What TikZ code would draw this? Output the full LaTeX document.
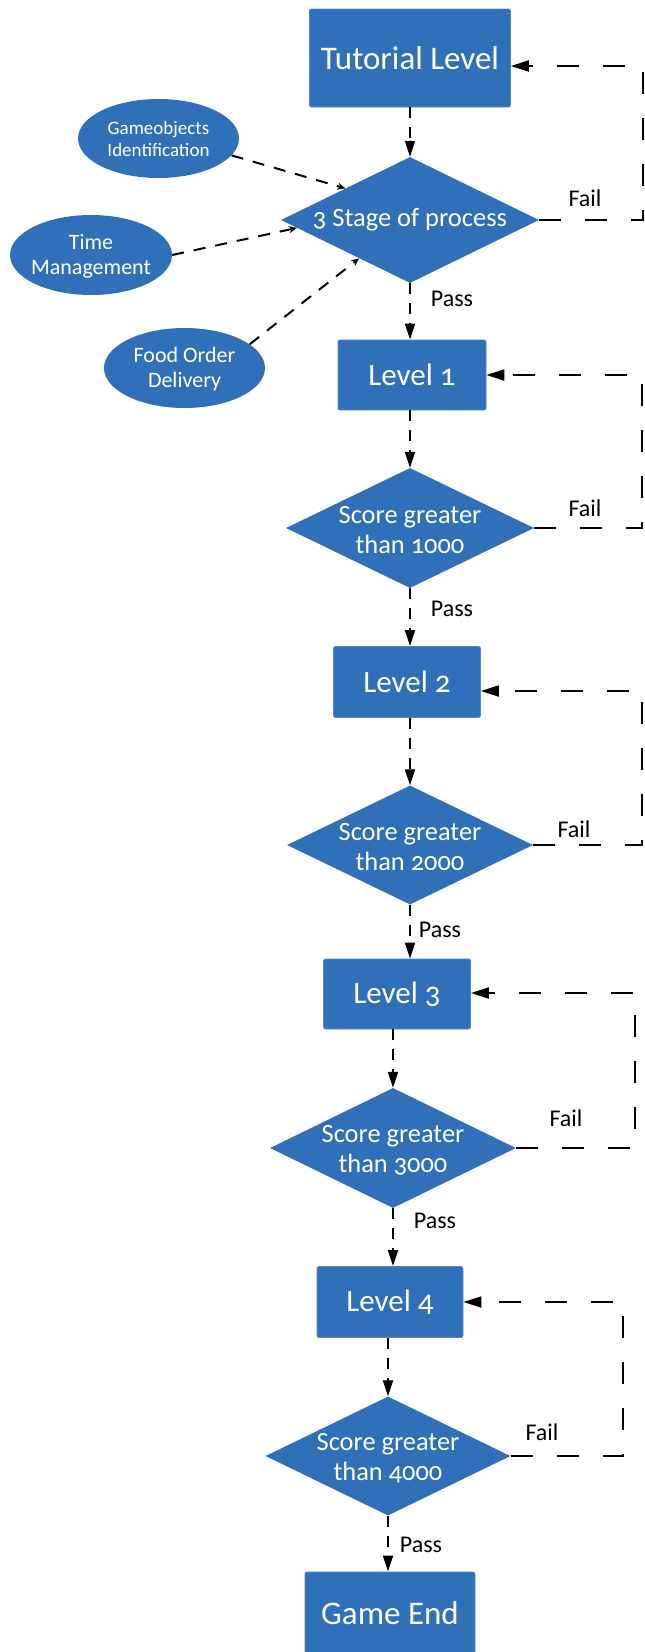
\documentclass[tikz,border=0pt]{standalone}
\usepackage{fontspec}
\setmainfont{Carlito}[Numbers=OldStyle]
\usetikzlibrary{shapes.geometric,arrows.meta}
\definecolor{boxblue}{RGB}{48,112,184}
\definecolor{edgeblue}{RGB}{78,136,200}
\begin{document}
\begin{tikzpicture}[x=1pt,y=-1pt,
  lvl/.style={rectangle, fill=boxblue, draw=edgeblue, line width=0.8pt, rounded corners=2pt, text=white, inner sep=0pt, align=center},
  dec/.style={diamond, fill=boxblue, inner sep=0pt},
  oval/.style={ellipse, fill=boxblue, inner sep=0pt},
  txt/.style={text=white, align=center, inner sep=0pt},
  flow/.style={line width=2pt, dash pattern=on 11pt off 9pt, -{Triangle[length=16pt,width=10pt]}},
  back/.style={line width=2pt, dash pattern=on 22pt off 24pt, -{Triangle[length=18pt,width=11pt]}},
  feed/.style={line width=2pt, dash pattern=on 12pt off 10pt, -{Stealth[length=8pt,width=7pt]}},
  lab/.style={text=black, inner sep=0pt, font=\fontsize{24}{28}\selectfont},
]
\useasboundingbox (0,0) rectangle (645,1652);

% main column
\node[lvl, minimum width=201pt, minimum height=98pt, font=\fontsize{33}{38}\selectfont] (t) at (410,58) {Tutorial Level};
\node[dec, minimum width=258pt, minimum height=126pt] (d0) at (410,220) {};
\node[txt, font=\fontsize{26.5}{30}\selectfont] (d0t) at (410,220) {3 Stage of process};

\node[lvl, minimum width=148pt, minimum height=70pt, font=\fontsize{31}{36}\selectfont] (l1) at (412,375) {Level 1};
\node[dec, minimum width=248pt, minimum height=120pt] (d1) at (410,528) {};
\node[txt, font=\fontsize{26.4}{30}\selectfont] (d1t) at (410,530) {Score greater\\than 1000};

\node[lvl, minimum width=147pt, minimum height=71pt, font=\fontsize{31}{36}\selectfont] (l2) at (407,682) {Level 2};
\node[dec, minimum width=246pt, minimum height=119pt] (d2) at (410,845) {};
\node[txt, font=\fontsize{26.4}{30}\selectfont] (d2t) at (410,847) {Score greater\\than 2000};

\node[lvl, minimum width=147pt, minimum height=70pt, font=\fontsize{31}{36}\selectfont] (l3) at (397,994) {Level 3};
\node[dec, minimum width=246pt, minimum height=120pt] (d3) at (393,1148) {};
\node[txt, font=\fontsize{26.4}{30}\selectfont] (d3t) at (393,1150) {Score greater\\than 3000};

\node[lvl, minimum width=146pt, minimum height=71pt, font=\fontsize{31}{36}\selectfont] (l4) at (390,1302) {Level 4};
\node[dec, minimum width=245pt, minimum height=119pt] (d4) at (388,1456) {};
\node[txt, font=\fontsize{26.4}{30}\selectfont] (d4t) at (388,1458) {Score greater\\than 4000};

\node[lvl, minimum width=170pt, minimum height=82pt, font=\fontsize{33}{38}\selectfont] (ge) at (390,1613) {Game End};

% ellipses
\node[oval, minimum width=161pt, minimum height=79pt] (g) at (158.5,138.5) {};
\node[txt, font=\fontsize{19}{22}\selectfont] (gt) at (158.5,139) {Gameobjects\\Identification};
\node[oval, minimum width=162pt, minimum height=80pt] (tm) at (91,255) {};
\node[txt, font=\fontsize{22}{25}\selectfont] (tmt) at (91,256) {Time\\Management};
\node[oval, minimum width=161pt, minimum height=80pt] (f) at (184.5,368) {};
\node[txt, font=\fontsize{22}{25}\selectfont] (ft) at (184.5,369) {Food Order\\Delivery};

% feeds into stage diamond
\draw[feed] (g.-13) -- (d0.north west);
\draw[feed] (tm.east) -- (d0.184);
\draw[feed] (f.20) -- (d0.217);

% downward flow (vertical, at the x of the target)
\draw[flow] (d0.north |- t.south) -- (d0.north);
\draw[flow] (d0.south) -- (d0.south |- l1.north);
\draw[flow] (d1.north |- l1.south) -- (d1.north);
\draw[flow] (d1.south) -- (d1.south |- l2.north);
\draw[flow] (d2.north |- l2.south) -- (d2.north);
\draw[flow] (d2.south) -- (d2.south |- l3.north);
\draw[flow] (d3.north |- l3.south) -- (d3.north);
\draw[flow] (d3.south) -- (d3.south |- l4.north);
\draw[flow] (d4.north |- l4.south) -- (d4.north);
\draw[flow] (d4.south) -- (d4.south |- ge.north);

% pass labels
\node[lab] (p0) at (452,299) {Pass};
\node[lab] (p1) at (452,609) {Pass};
\node[lab] (p2) at (440,930) {Pass};
\node[lab] (p3) at (435,1221) {Pass};
\node[lab] (p4) at (421,1545) {Pass};

% fail loops
\coordinate (c0) at (643,66);
\coordinate (c1) at (642,375);
\coordinate (c2) at (642,691);
\coordinate (c3) at (635,993);
\coordinate (c4) at (623,1302);
\draw[back] (d0.east) -- (d0.east -| c0) -- (c0) -- (t.east |- c0);
\draw[back] (d1.east) -- (d1.east -| c1) -- (c1) -- (l1.east |- c1);
\draw[back] (d2.east) -- (d2.east -| c2) -- (c2) -- (l2.east |- c2);
\draw[back] (d3.east) -- (d3.east -| c3) -- (c3) -- (l3.east |- c3);
\draw[back] (d4.east) -- (d4.east -| c4) -- (c4) -- (l4.east |- c4);

\node[lab] (f0) at (585,198) {Fail};
\node[lab] (f1) at (585,508) {Fail};
\node[lab] (f2) at (574,829) {Fail};
\node[lab] (f3) at (566,1118) {Fail};
\node[lab] (f4) at (542,1432) {Fail};
\end{tikzpicture}
\end{document}
